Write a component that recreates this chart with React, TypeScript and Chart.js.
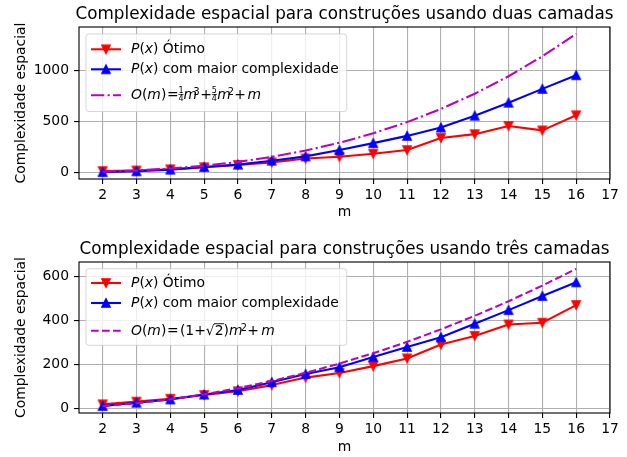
import React, { useEffect, useRef } from 'react';
import { Chart, registerables } from 'chart.js';

Chart.register(...registerables);

// ---------- data ----------
const mValues = [2, 3, 4, 5, 6, 7, 8, 9, 10, 11, 12, 13, 14, 15, 16];
const xTickValues = [2, 3, 4, 5, 6, 7, 8, 9, 10, 11, 12, 13, 14, 15, 16, 17];

// duas camadas
const duasOtimo = [15, 20, 32, 52, 75, 100, 138, 155, 185, 221, 340, 377, 457, 414, 562];
const duasMaior = [5, 13, 29, 55, 78, 117, 159, 221, 289, 360, 442, 558, 685, 821, 955];
const duasO = [9, 21, 40, 67.5, 105, 154, 216, 292.5, 385, 495, 624, 773.5, 945, 1140, 1360];
const duasYTicks = [0, 500, 1000];

// três camadas
const tresOtimo = [20, 32, 45, 62, 79, 107, 141, 162, 193, 228, 291, 330, 382, 390, 470];
const tresMaior = [12, 27, 42, 64, 85, 120, 157, 188, 234, 280, 324, 385, 447, 511, 573];
const tresO = [11.66, 24.73, 42.63, 65.36, 92.91, 125.3, 162.51, 204.55, 251.42, 303.12, 359.65, 421.0, 487.19, 558.2, 634.04];
const tresYTicks = [0, 200, 400, 600];

const tituloDuas = 'Complexidade espacial para construções usando duas camadas';
const tituloTres = 'Complexidade espacial para construções usando três camadas';
const yTitulo = 'Complexidade espacial';
const xTitulo = 'm';

type Seg =
  | { t: string; it?: boolean; sup?: boolean; k?: number }
  | { frac: [string, string]; k?: number }
  | { sqrt: string; k?: number };

const legOtimo: Seg[] = [{ t: 'P', it: true }, { t: '(' }, { t: 'x', it: true }, { t: ')' }, { t: ' Ótimo' }];
const legMaior: Seg[] = [{ t: 'P', it: true }, { t: '(' }, { t: 'x', it: true }, { t: ')' }, { t: ' com maior complexidade' }];
const legODuas: Seg[] = [
  { t: 'O', it: true }, { t: '(' }, { t: 'm', it: true }, { t: ')', k: 0.8 }, { t: '=', k: -0.3 },
  { frac: ['1', '4'] }, { t: 'm', it: true, k: -3.5 }, { t: '3', sup: true, k: 0.5 }, { t: '+' },
  { frac: ['5', '4'], k: 0.2 }, { t: 'm', it: true, k: -3 }, { t: '2', sup: true, k: 0.5 }, { t: '+', k: 1.4 },
  { t: 'm', it: true },
];
const legOTres: Seg[] = [
  { t: 'O', it: true }, { t: '(' }, { t: 'm', it: true }, { t: ')', k: 0.8 }, { t: '=', k: 1.2 },
  { t: '(' }, { t: '1' }, { t: '+' }, { sqrt: '2' }, { t: ')' }, { t: 'm', it: true, k: -1.7 },
  { t: '2', sup: true, k: 0.2 }, { t: '+', k: 2.5 }, { t: 'm', it: true },
];

// ---------- styling ----------
const FONT = "'DejaVu Sans', sans-serif";
const FS = 13.9;
const RED = '#ff0000';
const BLUE = '#0000ff';
const MAG = '#bf00bf';

function makeTri(color: string, down: boolean) {
  const c = document.createElement('canvas');
  c.width = 14;
  c.height = 14;
  const g = c.getContext('2d')!;
  const h = 4.15;
  const cx = 7;
  const cy = 7;
  g.beginPath();
  if (down) {
    g.moveTo(cx, cy + h);
    g.lineTo(cx - h, cy - h);
    g.lineTo(cx + h, cy - h);
  } else {
    g.moveTo(cx, cy - h);
    g.lineTo(cx - h, cy + h);
    g.lineTo(cx + h, cy + h);
  }
  g.closePath();
  g.fillStyle = color;
  g.fill();
  g.strokeStyle = color;
  g.lineWidth = 1.39;
  g.lineJoin = 'miter';
  g.stroke();
  return c;
}

function drawRich(ctx: CanvasRenderingContext2D, segs: Seg[], x0: number, base: number) {
  let x = x0;
  ctx.textBaseline = 'alphabetic';
  ctx.textAlign = 'left';
  for (const s of segs) {
    if ('frac' in s) {
      ctx.font = `8px ${FONT}`;
      const w = Math.max(ctx.measureText(s.frac[0]).width, ctx.measureText(s.frac[1]).width);
      const bar = base - 4.8;
      ctx.fillRect(x, bar - 0.35, w, 0.7);
      ctx.textAlign = 'center';
      ctx.fillText(s.frac[0], x + w / 2, bar - 1.1);
      ctx.fillText(s.frac[1], x + w / 2, bar + 6.4);
      ctx.textAlign = 'left';
      x += w + (s.k || 0);
    } else if ('sqrt' in s) {
      ctx.font = `${FS}px ${FONT}`;
      const m = ctx.measureText('√');
      ctx.fillText('√', x, base);
      const wr = ctx.measureText(s.sqrt).width;
      ctx.fillText(s.sqrt, x + m.width, base);
      const top = base - m.actualBoundingBoxAscent;
      const x1 = x + m.actualBoundingBoxRight - 0.8;
      ctx.fillRect(x1, top, x + m.width + wr + 0.5 - x1, 0.9);
      x += m.width + wr + (s.k || 0);
    } else {
      const size = s.sup ? 9.7 : FS;
      ctx.font = `${s.it ? 'italic ' : ''}${size}px ${FONT}`;
      ctx.fillText(s.t, x, base - (s.sup ? 4.4 : 0));
      x += ctx.measureText(s.t).width + (s.k || 0);
    }
  }
}

type Spec = {
  title: string;
  otimo: number[];
  maior: number[];
  oCurve: number[];
  oLegend: Seg[];
  dash: number[];
  yMin: number;
  yMax: number;
  yTicks: number[];
  xAxisHeight: number;
  xTitlePadBottom: number;
  legend: { top: number; h: number; rows: number[]; base: number[] };
};

function buildChart(canvas: HTMLCanvasElement, spec: Spec) {
  const triDown = makeTri(RED, true);
  const triUp = makeTri(BLUE, false);
  const deco = {
    id: 'deco',
    afterDatasetsDraw(chart: any) {
      const ctx: CanvasRenderingContext2D = chart.ctx;
      const a = chart.chartArea;
      ctx.save();
      ctx.strokeStyle = '#000';
      ctx.lineWidth = 1.11;
      ctx.strokeRect(a.left, a.top, a.right - a.left, a.bottom - a.top);
      // title
      ctx.fillStyle = '#000';
      ctx.font = `16.8px ${FONT}`;
      ctx.textAlign = 'center';
      ctx.textBaseline = 'alphabetic';
      ctx.fillText(spec.title, (a.left + a.right) / 2, a.top - 8.3);
      // legend
      const L = spec.legend;
      const bx = a.left + 7;
      const by = a.top + L.top;
      ctx.beginPath();
      ctx.roundRect(bx, by, 260.7, L.h, 2.8);
      ctx.fillStyle = 'rgba(255,255,255,0.8)';
      ctx.fill();
      ctx.strokeStyle = 'rgba(204,204,204,0.8)';
      ctx.lineWidth = 1;
      ctx.stroke();
      const handles = [
        { color: RED, img: triDown, dash: [] as number[], label: legOtimo },
        { color: BLUE, img: triUp, dash: [] as number[], label: legMaior },
        { color: MAG, img: null as any, dash: spec.dash, label: spec.oLegend },
      ];
      handles.forEach((hd, i) => {
        const y = a.top + L.rows[i];
        ctx.beginPath();
        ctx.setLineDash(hd.dash);
        ctx.strokeStyle = hd.color;
        ctx.lineWidth = 2.08;
        ctx.moveTo(bx + 5, y);
        ctx.lineTo(bx + 35, y);
        ctx.stroke();
        ctx.setLineDash([]);
        if (hd.img) ctx.drawImage(hd.img, bx + 20 - 7, y - 7);
        ctx.fillStyle = '#000';
        drawRich(ctx, hd.label, bx + 45, y + L.base[i]);
      });
      ctx.restore();
    },
  };

  const font = { family: FONT, size: FS };
  return new Chart(canvas, {
    type: 'line',
    data: {
      datasets: [
        {
          label: 'otimo',
          data: mValues.map((m, i) => ({ x: m, y: spec.otimo[i] })),
          borderColor: RED,
          backgroundColor: RED,
          borderWidth: 2.08,
          pointStyle: triDown as any,
          pointRadius: 5,
          pointHoverRadius: 5,
          tension: 0,
          borderJoinStyle: 'round',
          order: 2,
        },
        {
          label: 'maior',
          data: mValues.map((m, i) => ({ x: m, y: spec.maior[i] })),
          borderColor: BLUE,
          backgroundColor: BLUE,
          borderWidth: 2.08,
          pointStyle: triUp as any,
          pointRadius: 5,
          pointHoverRadius: 5,
          tension: 0,
          borderJoinStyle: 'round',
          order: 1,
        },
        {
          label: 'O',
          data: mValues.map((m, i) => ({ x: m, y: spec.oCurve[i] })),
          borderColor: MAG,
          backgroundColor: MAG,
          borderWidth: 2.08,
          borderDash: spec.dash,
          borderCapStyle: 'butt',
          pointRadius: 0,
          tension: 0,
          order: 0,
        },
      ],
    } as any,
    options: {
      responsive: false,
      animation: false,
      events: [],
      layout: { padding: { top: 27, right: 17, left: 0, bottom: 0 } },
      plugins: { legend: { display: false }, tooltip: { enabled: false }, title: { display: false } },
      scales: {
        x: {
          type: 'linear',
          min: 1.3,
          max: 17,
          afterBuildTicks: (s: any) => {
            s.ticks = xTickValues.map((v) => ({ value: v }));
          },
          afterFit: (s: any) => {
            s.height = spec.xAxisHeight;
          },
          ticks: { font, color: '#000', padding: 3, callback: (v: any) => String(v), maxRotation: 0, autoSkip: false },
          grid: { color: '#b0b0b0', lineWidth: 1.11, tickColor: '#000', tickLength: 5, tickWidth: 1.11 },
          border: { display: false },
          title: { display: true, text: xTitulo, font, color: '#000', padding: { top: 0, bottom: spec.xTitlePadBottom } },
        },
        y: {
          type: 'linear',
          min: spec.yMin,
          max: spec.yMax,
          afterBuildTicks: (s: any) => {
            s.ticks = spec.yTicks.map((v) => ({ value: v }));
          },
          afterFit: (s: any) => {
            s.width = 79;
          },
          ticks: { font, color: '#000', padding: 5, callback: (v: any) => String(v), autoSkip: false },
          grid: { color: '#b0b0b0', lineWidth: 1.11, tickColor: '#000', tickLength: 5, tickWidth: 1.11 },
          border: { display: false },
          title: { display: true, text: yTitulo, font, color: '#000', padding: { top: 12.9, bottom: 0 } },
        },
      },
    } as any,
    plugins: [deco],
  });
}

export default function App() {
  const ref1 = useRef<HTMLCanvasElement>(null);
  const ref2 = useRef<HTMLCanvasElement>(null);

  useEffect(() => {
    const c1 = buildChart(ref1.current!, {
      title: tituloDuas,
      otimo: duasOtimo,
      maior: duasMaior,
      oCurve: duasO,
      oLegend: legODuas,
      dash: [13.3, 3.3, 2.1, 3.3],
      yMin: -62.75,
      yMax: 1427.75,
      yTicks: duasYTicks,
      xAxisHeight: 49,
      xTitlePadBottom: 7.7,
      legend: { top: 7, h: 77.5, rows: [22.3, 42.3, 68.3], base: [3.5, 3.5, 4] },
    });
    const c2 = buildChart(ref2.current!, {
      title: tituloTres,
      otimo: tresOtimo,
      maior: tresMaior,
      oCurve: tresO,
      oLegend: legOTres,
      dash: [7.7, 3.3],
      yMin: -19.5,
      yMax: 665.2,
      yTicks: tresYTicks,
      xAxisHeight: 44,
      xTitlePadBottom: 1.7,
      legend: { top: 6.7, h: 76.6, rows: [21, 41, 68.7], base: [3.7, 3.7, 4.6] },
    });
    return () => {
      c1.destroy();
      c2.destroy();
    };
  }, []);

  return (
    <div style={{ position: 'absolute', left: 0, top: 0, width: 627, height: 457, background: '#fff' }}>
      <canvas ref={ref1} width={627} height={228} style={{ position: 'absolute', left: 0, top: 0, width: 627, height: 228 }} />
      <canvas ref={ref2} width={627} height={222} style={{ position: 'absolute', left: 0, top: 235, width: 627, height: 222 }} />
    </div>
  );
}
